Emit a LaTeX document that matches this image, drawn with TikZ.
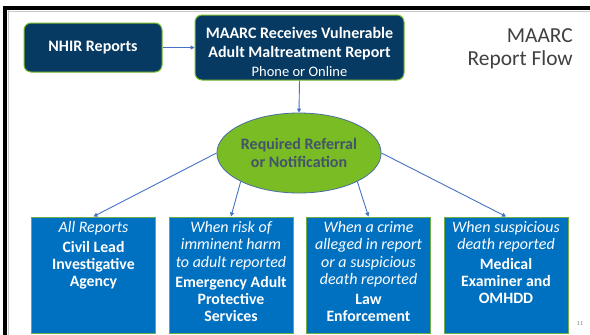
\documentclass[tikz,border=0pt]{standalone}
\usepackage{fontspec}
\setmainfont{Carlito}
\usetikzlibrary{arrows.meta,shapes.geometric}

\definecolor{navyfill}{HTML}{073A62}
\definecolor{limeedge}{HTML}{7CBA2C}
\definecolor{ovalfill}{HTML}{79BC24}
\definecolor{ovaledge}{HTML}{4D6EA3}
\definecolor{ovaltext}{HTML}{44546A}
\definecolor{bluefill}{HTML}{0070C0}
\definecolor{bluebox}{HTML}{70AD47}
\definecolor{linkblue}{HTML}{4472C4}
\definecolor{titlegray}{HTML}{404040}
\definecolor{framegray}{HTML}{C8C8C8}

% text block of a lower box: italic condition, then the bold agency name
\newcommand\lowtext[2]{%
  \parbox[c][116pt][t]{124pt}{\centering
    \fontsize{16}{17.5}\selectfont\itshape\rule{0pt}{15pt}#1\par
    \vspace{3.2pt}%
    \fontsize{15.8}{17}\selectfont\upshape\bfseries #2\par}}

\begin{document}
\begin{tikzpicture}[x=1pt,y=-1pt,
  topbox/.style={draw=limeedge, line width=1pt, fill=navyfill, rounded corners=7pt,
    text=white, inner sep=0pt},
  lowbox/.style={draw=bluebox, line width=1pt, fill=bluefill, text=white,
    inner sep=0pt, minimum width=124pt, minimum height=116pt},
  oval/.style={ellipse, draw=ovaledge, line width=0.8pt, fill=ovalfill,
    text=ovaltext, inner sep=0pt, minimum width=164pt, minimum height=80pt,
    align=center, font=\fontsize{16}{18.5}\selectfont\bfseries},
  link/.style={draw=linkblue, line width=0.9pt,
    -{Triangle[length=4pt,width=4pt]}}]

\useasboundingbox (0,0) rectangle (590,335);
\fill[white] (0,0) rectangle (590,335);

% slide frame
\fill[black] (3,6) rectangle (590,10);
\fill[black] (3,6) rectangle (7,335);
\draw[framegray, line width=0.8pt] (7.5,11) -- (590,11);
\draw[framegray, line width=0.8pt] (8,10) -- (8,335);

% top row
\node[topbox, minimum width=138pt, minimum height=49pt,
  font=\fontsize{16}{19}\selectfont\bfseries] (nhir) at (93,47.5) {NHIR Reports};
\node[topbox, minimum width=209pt, minimum height=65pt] (maarc) at (299.5,47.5)
  {\parbox[c][65pt][t]{209pt}{\centering
    \fontsize{16}{19}\selectfont\bfseries\rule{0pt}{23pt}MAARC Receives Vulnerable\\
    Adult Maltreatment Report\\
    {\mdseries\fontsize{14.5}{19}\selectfont Phone or Online}\par}};

% title
\node[anchor=north east, inner sep=0pt, align=right, text=titlegray,
  font=\fontsize{21.4}{23}\selectfont] (title) at (573,28) {MAARC\\Report Flow};

% referral hub
\node[oval] (hub) at (299,153) {Required Referral\\or Notification};

% recipients
\node[lowbox] (civil) at (93.5,275)
  {\lowtext{All Reports}{Civil Lead\\Investigative\\Agency}};
\node[lowbox] (eaps) at (231,275)
  {\lowtext{When risk of\\imminent harm\\to adult reported}{Emergency Adult\\Protective\\Services}};
\node[lowbox] (law) at (368.5,275)
  {\lowtext{When a crime\\alleged in report\\or a suspicious\\death reported}{Law\\Enforcement}};
\node[lowbox] (med) at (506,275)
  {\lowtext{When suspicious\\death reported}{Medical\\Examiner and\\OMHDD}};

% page number
\node[text=gray, font=\fontsize{6}{7}\selectfont, inner sep=0pt] (page) at (580,323.5) {11};

% connectors
\draw[link] (nhir.east) -- (maarc.west);
\draw[link] (maarc.south) -- (hub.north);
\draw[link] (hub.west) -- (civil.north);
\draw[link] (hub.south west) -- (eaps.north);
\draw[link] (hub.south east) -- (law.north);
\draw[link] (hub.east) -- (med.north);
\end{tikzpicture}
\end{document}
